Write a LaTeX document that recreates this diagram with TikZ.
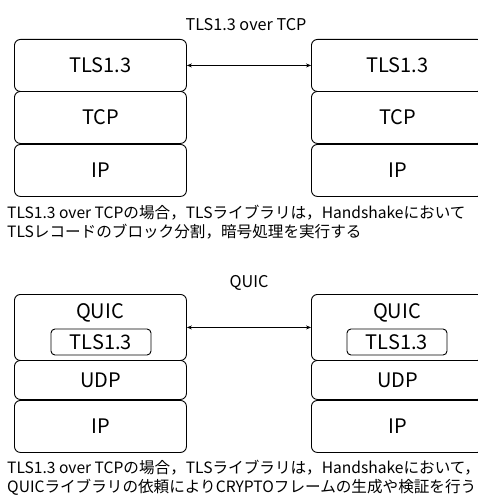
\documentclass[tikz,border=0pt]{standalone}
\usepackage{fontspec}
\setmainfont{Noto Sans CJK JP}
\usetikzlibrary{arrows.meta}
\tikzset{
  layer/.style={draw=black, line width=0.9pt, rounded corners=6pt, minimum width=172pt, inner sep=0pt, font=\fontsize{20}{22}\selectfont, anchor=north west},
  inner/.style={draw=black, line width=0.9pt, rounded corners=4pt, minimum width=100pt, minimum height=26pt, inner sep=0pt, font=\fontsize{20}{22}\selectfont},
  lbl/.style={font=\fontsize{20}{22}\selectfont, inner sep=0pt},
  title/.style={font=\fontsize{16.2}{18}\selectfont, inner sep=0pt},
  desc/.style={font=\fontsize{15.6}{17}\selectfont, inner sep=0pt, anchor=west},
  link/.style={line width=0.7pt, {Stealth[length=5pt,width=4pt]}-{Stealth[length=5pt,width=4pt]}}
}
\begin{document}
\begin{tikzpicture}[x=1pt,y=-1pt]
\useasboundingbox (0,0) rectangle (478,495);
\clip (0,0) rectangle (478,495);
% top section
\node[title] (t1) at (246,25) {TLS1.3 over TCP};
\node[layer, minimum height=52pt] (ltls) at (14,39) {TLS1.3};
\node[layer, minimum height=52pt] (ltcp) at (14,91) {TCP};
\node[layer, minimum height=52pt] (lip) at (14,144) {IP};
\node[layer, minimum height=52pt] (rtls) at (311,39) {TLS1.3};
\node[layer, minimum height=52pt] (rtcp) at (311,91) {TCP};
\node[layer, minimum height=52pt] (rip) at (311,144) {IP};
\draw[link] (ltls.east) -- (rtls.west);
\node[desc] (d1) at (7,213) {TLS1.3 over TCPの場合，TLSライブラリは，Handshakeにおいて};
\node[desc] (d2) at (7,232) {TLSレコードのブロック分割，暗号処理を実行する};
% bottom section
\node[title] (t2) at (249,283) {QUIC};
\node[layer, minimum height=66pt] (lquic) at (14,294) {};
\node[lbl] (lquict) at (100,313) {QUIC};
\node[inner] (linner) at (101,342) {TLS1.3};
\node[layer, minimum height=39pt] (ludp) at (14,360) {UDP};
\node[layer, minimum height=52pt] (lip2) at (14,400) {IP};
\node[layer, minimum height=66pt] (rquic) at (311,294) {};
\node[lbl] (rquict) at (397,313) {QUIC};
\node[inner] (rinner) at (397,342) {TLS1.3};
\node[layer, minimum height=39pt] (rudp) at (311,360) {UDP};
\node[layer, minimum height=52pt] (rip2) at (311,400) {IP};
\draw[link] (lquic.east) -- (rquic.west);
\node[desc] (d3) at (7,468) {TLS1.3 over TCPの場合，TLSライブラリは，Handshakeにおいて，};
\node[desc] (d4) at (7,487) {QUICライブラリの依頼によりCRYPTOフレームの生成や検証を行う};
\end{tikzpicture}
\end{document}
